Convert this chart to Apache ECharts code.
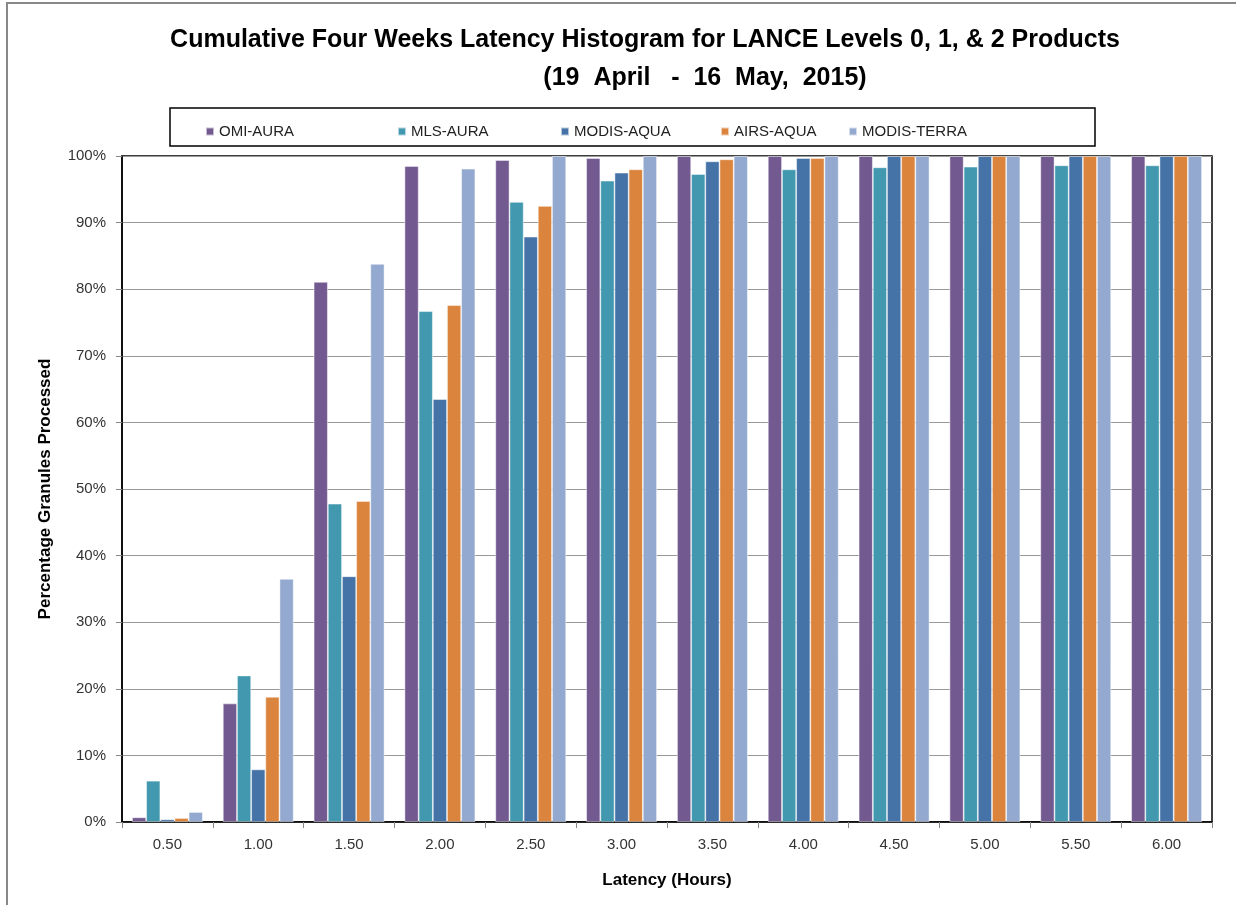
<!DOCTYPE html>
<html>
<head>
<meta charset="utf-8">
<script src="https://cdn.jsdelivr.net/npm/echarts@6/dist/echarts.min.js"></script>
<style>html,body{margin:0;padding:0;background:#fff}#c{width:1236px;height:905px}</style>
</head>
<body>
<div id="c"></div>
<script>
const categories = ['0.50','1.00','1.50','2.00','2.50','3.00','3.50','4.00','4.50','5.00','5.50','6.00'];
const seriesNames = ['OMI-AURA','MLS-AURA','MODIS-AQUA','AIRS-AQUA','MODIS-TERRA'];
const omiAura    = [0.7, 17.8, 81.1, 98.5, 99.4, 99.7, 100, 100, 100, 100, 100, 100];
const mlsAura    = [6.2, 22.0, 47.8, 76.7, 93.1, 96.3, 97.3, 98.0, 98.3, 98.4, 98.6, 98.6];
const modisAqua  = [0.4, 7.9, 36.9, 63.5, 87.9, 97.5, 99.2, 99.7, 100, 100, 100, 100];
const airsAqua   = [0.6, 18.8, 48.2, 77.6, 92.5, 98.0, 99.5, 99.7, 100, 100, 100, 100];
const modisTerra = [1.5, 36.5, 83.8, 98.1, 100, 100, 100, 100, 100, 100, 100, 100];
const yTicks = [0,10,20,30,40,50,60,70,80,90,100];

const colors = ['#725990','#4198AF','#4572A7','#DB843D','#93A9CF'];
const seriesData = [omiAura, mlsAura, modisAqua, airsAqua, modisTerra];
const font = '"Liberation Sans", sans-serif';

const chart = echarts.init(document.getElementById('c'));
const legendLefts = [200, 392, 555, 715, 843];
chart.setOption({
  animation: false,
  textStyle: {fontFamily: font},
  title: [
    {
      text: 'Cumulative Four Weeks Latency Histogram for LANCE Levels 0, 1, & 2 Products',
      left: 640, top: 23, textAlign: 'center',
      textStyle: {fontFamily: font, fontWeight: 'bold', fontSize: 25, color: '#000'}
    },
    {
      text: '(19  April   -  16  May,  2015)',
      left: 700, top: 61, textAlign: 'center',
      textStyle: {fontFamily: font, fontWeight: 'bold', fontSize: 25, color: '#000'}
    }
  ],
  graphic: [
    {type: 'rect', shape: {x: 7, y: 3, width: 1240, height: 920}, style: {fill: 'none', stroke: '#888', lineWidth: 2}, silent: true},
    {type: 'rect', shape: {x: 170, y: 108, width: 925, height: 38}, style: {fill: 'none', stroke: '#000', lineWidth: 1.5}, silent: true}
  ],
  legend: seriesNames.map((n, i) => ({
    data: [n], left: legendLefts[i], top: 119, itemWidth: 8, itemHeight: 8,
    icon: 'rect', textStyle: {fontFamily: font, fontSize: 15, color: '#222'}, itemGap: 5,
    selectedMode: false
  })),
  grid: {left: 122, right: 24, top: 156, bottom: 83, show: true, borderColor: '#000', borderWidth: 1.5, containLabel: false},
  xAxis: {
    type: 'category', data: categories,
    name: 'Latency (Hours)', nameLocation: 'middle', nameGap: 50,
    nameTextStyle: {fontFamily: font, fontWeight: 'bold', fontSize: 17, color: '#000'},
    axisLine: {lineStyle: {color: '#000', width: 1.5}},
    axisTick: {show: true, inside: false, length: 6, lineStyle: {color: '#888'}},
    axisLabel: {fontFamily: font, fontSize: 15, color: '#333', margin: 15}
  },
  yAxis: {
    type: 'value', min: 0, max: 100, interval: 10,
    name: 'Percentage Granules Processed', nameLocation: 'middle', nameGap: 68,
    nameTextStyle: {fontFamily: font, fontWeight: 'bold', fontSize: 17, color: '#000'},
    axisLine: {show: true, lineStyle: {color: '#000', width: 1.5}},
    axisTick: {show: true, inside: false, length: 6, lineStyle: {color: '#888'}},
    axisLabel: {fontFamily: font, fontSize: 15, color: '#333', margin: 16,
      formatter: v => yTicks.includes(v) ? v + '%' : ''},
    splitLine: {show: true, lineStyle: {color: '#999', width: 1.2}}
  },
  series: seriesNames.map((n, i) => ({
    name: n, type: 'bar', data: seriesData[i],
    barGap: '0%', barCategoryGap: '22%',
    itemStyle: {color: colors[i], borderColor: 'rgba(255,255,255,0.6)', borderWidth: 0.8}
  }))
});
</script>
</body>
</html>
